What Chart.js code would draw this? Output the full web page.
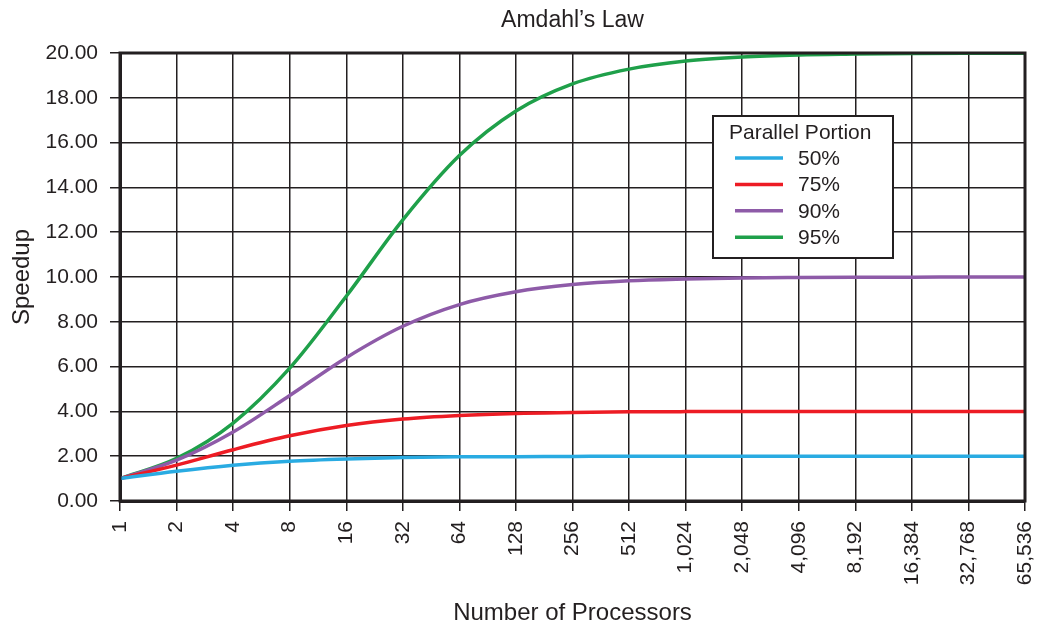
<!DOCTYPE html>
<html>
<head>
<meta charset="utf-8">
<script src="https://cdn.jsdelivr.net/npm/chart.js@4/dist/chart.umd.min.js"></script>
<style>
  html, body { margin: 0; padding: 0; background: #fff; }
  #wrap { width: 1048px; height: 623px; }
</style>
</head>
<body>
<div id="wrap"><canvas id="c" width="1048" height="623"></canvas></div>
<script>
// Processor counts along the x axis
const processors = ['1','2','4','8','16','32','64','128','256','512','1,024','2,048','4,096','8,192','16,384','32,768','65,536'];

// Speedup for each parallel portion
const speedup50 = [1.00, 1.33, 1.60, 1.78, 1.88, 1.94, 1.97, 1.98, 1.99, 2.00, 2.00, 2.00, 2.00, 2.00, 2.00, 2.00, 2.00];
const speedup75 = [1.00, 1.60, 2.29, 2.91, 3.37, 3.66, 3.82, 3.91, 3.95, 3.98, 3.99, 3.99, 4.00, 4.00, 4.00, 4.00, 4.00];
const speedup90 = [1.00, 1.82, 3.08, 4.71, 6.40, 7.80, 8.77, 9.34, 9.66, 9.83, 9.91, 9.96, 9.98, 9.99, 9.99, 10.00, 10.00];
const speedup95 = [1.00, 1.90, 3.48, 5.93, 9.14, 12.55, 15.42, 17.41, 18.62, 19.28, 19.64, 19.82, 19.91, 19.95, 19.98, 19.99, 19.99];

const seriesLabels = ['50%', '75%', '90%', '95%'];
const seriesColors = ['#29abe2', '#ed1c24', '#8e5ba8', '#1fa04a'];
const seriesValues = [speedup50, speedup75, speedup90, speedup95];

const chartTitle = 'Amdahl\u2019s Law';

const FONT = "'Liberation Sans', Arial, Helvetica, sans-serif";
const INK = '#231f20';

// Heavy frame around the plotting area
const framePlugin = {
  id: 'frame',
  afterDatasetsDraw(chart) {
    const { ctx, chartArea: a } = chart;
    ctx.save();
    ctx.strokeStyle = INK;
    ctx.lineWidth = 3;
    ctx.strokeRect(a.left, a.top, a.right - a.left, a.bottom - a.top);
    ctx.restore();
  }
};

// Title centred over the plotting area rather than the whole canvas
const plotTitlePlugin = {
  id: 'plotTitle',
  afterDraw(chart) {
    const { ctx, chartArea: a } = chart;
    ctx.save();
    ctx.fillStyle = INK;
    ctx.font = '23px ' + FONT;
    ctx.textAlign = 'center';
    ctx.textBaseline = 'middle';
    ctx.fillText(chartTitle, (a.left + a.right) / 2, 21);
    ctx.restore();
  }
};

// Boxed legend with a title, placed inside the plot
const boxLegendPlugin = {
  id: 'boxLegend',
  afterDraw(chart) {
    const { ctx, chartArea: a } = chart;
    const x = a.left + 593, y = a.top + 63, w = 180, h = 142;
    ctx.save();
    ctx.fillStyle = '#fff';
    ctx.fillRect(x, y, w, h);
    ctx.strokeStyle = INK;
    ctx.lineWidth = 2;
    ctx.strokeRect(x, y, w, h);
    ctx.fillStyle = INK;
    ctx.font = '21px ' + FONT;
    ctx.textBaseline = 'middle';
    ctx.textAlign = 'left';
    ctx.fillText('Parallel Portion', x + 16, y + 17);
    chart.data.datasets.forEach((ds, i) => {
      const ly = y + 42 + i * 26.4;
      ctx.strokeStyle = ds.borderColor;
      ctx.lineWidth = 3.5;
      ctx.beginPath();
      ctx.moveTo(x + 22, ly);
      ctx.lineTo(x + 70, ly);
      ctx.stroke();
      ctx.fillStyle = INK;
      ctx.fillText(ds.label, x + 85, ly + 1);
    });
    ctx.restore();
  }
};

new Chart(document.getElementById('c'), {
  type: 'line',
  data: {
    labels: processors,
    datasets: seriesLabels.map((lab, i) => ({
      label: lab,
      data: seriesValues[i],
      borderColor: seriesColors[i],
      backgroundColor: seriesColors[i],
      borderWidth: 3.5,
      pointRadius: 0,
      cubicInterpolationMode: 'monotone',
      fill: false
    }))
  },
  options: {
    responsive: false,
    animation: false,
    devicePixelRatio: 1,
    layout: { padding: { left: 0, right: 23, top: 53, bottom: 0 } },
    plugins: {
      legend: { display: false },
      tooltip: { enabled: false },
      title: { display: false }
    },
    scales: {
      x: {
        offset: false,
        afterFit: s => { s.height = 122; s.paddingLeft = 0; s.paddingRight = 0; },
        grid: { color: INK, lineWidth: 1.5, tickLength: 10, offset: false },
        border: { color: INK, width: 3 },
        ticks: {
          color: INK,
          font: { family: FONT, size: 21 },
          minRotation: 90,
          maxRotation: 90,
          autoSkip: false,
          padding: 10
        },
        title: {
          display: true,
          text: 'Number of Processors',
          color: INK,
          font: { family: FONT, size: 24 },
          padding: { top: 0, bottom: -5 }
        }
      },
      y: {
        min: 0,
        max: 20,
        afterFit: s => { s.width = 120; s.paddingTop = 0; s.paddingBottom = 0; },
        grid: { color: INK, lineWidth: 1.5, tickLength: 10 },
        border: { color: INK, width: 3 },
        ticks: {
          stepSize: 2,
          color: INK,
          font: { family: FONT, size: 21 },
          padding: 12,
          callback: v => Number(v).toFixed(2)
        },
        title: {
          display: true,
          text: 'Speedup',
          color: INK,
          font: { family: FONT, size: 24 },
          padding: { top: 8, bottom: 0 }
        }
      }
    }
  },
  plugins: [framePlugin, plotTitlePlugin, boxLegendPlugin]
});
</script>
</body>
</html>
